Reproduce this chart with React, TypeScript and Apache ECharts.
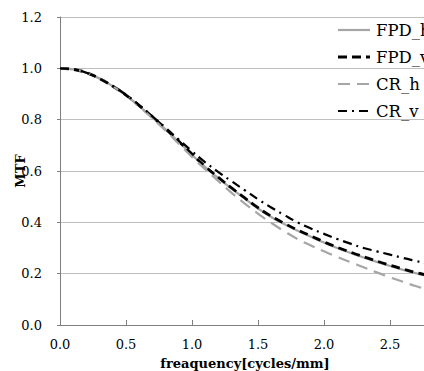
import React, { useEffect, useRef } from "react";
import * as echarts from "echarts";

const freq = [0, 0.1, 0.2, 0.3, 0.4, 0.5, 0.6, 0.7, 0.8, 0.9, 1.0, 1.1, 1.2, 1.3, 1.4, 1.5, 1.6, 1.7, 1.8, 1.9, 2.0, 2.1, 2.2, 2.3, 2.4, 2.5, 2.6, 2.7, 2.8, 2.9, 3.0];

const fpdH = [1.0, 0.996, 0.983, 0.96, 0.93, 0.895, 0.853, 0.808, 0.762, 0.713, 0.663, 0.615, 0.572, 0.531, 0.492, 0.454, 0.421, 0.393, 0.367, 0.344, 0.321, 0.3, 0.281, 0.263, 0.246, 0.23, 0.215, 0.201, 0.189, 0.178, 0.168];
const fpdV = [1.0, 0.996, 0.983, 0.96, 0.93, 0.896, 0.855, 0.811, 0.765, 0.716, 0.666, 0.618, 0.575, 0.534, 0.495, 0.457, 0.424, 0.396, 0.37, 0.347, 0.324, 0.303, 0.284, 0.266, 0.249, 0.233, 0.218, 0.204, 0.192, 0.181, 0.171];
const crH = [1.0, 0.996, 0.983, 0.96, 0.93, 0.894, 0.851, 0.805, 0.757, 0.706, 0.655, 0.607, 0.56, 0.515, 0.473, 0.434, 0.398, 0.365, 0.335, 0.31, 0.287, 0.265, 0.245, 0.225, 0.205, 0.186, 0.168, 0.151, 0.136, 0.124, 0.114];
const crV = [1.0, 0.996, 0.983, 0.96, 0.931, 0.897, 0.857, 0.813, 0.768, 0.722, 0.677, 0.634, 0.596, 0.56, 0.525, 0.49, 0.458, 0.428, 0.4, 0.376, 0.355, 0.335, 0.317, 0.3, 0.287, 0.274, 0.261, 0.249, 0.237, 0.226, 0.216];

const seriesNames = ["FPD_h", "FPD_v", "CR_h", "CR_v"];
const xTitle = "freaquency[cycles/mm]";
const yTitle = "MTF";

const FONT = "'DejaVu Serif', serif";

export default function App() {
  const ref = useRef<HTMLDivElement>(null);
  useEffect(() => {
    if (!ref.current) return;
    const chart = echarts.init(ref.current, null, { renderer: "svg" });
    const pairs = (ys: number[]) => freq.map((f, i) => [f, ys[i]]);
    const styles = [
      { color: "#a6a6a6", width: 2.2, type: "solid" as any },
      { color: "#000000", width: 2.8, type: [9, 5] as any },
      { color: "#a6a6a6", width: 2.2, type: [12, 7] as any },
      { color: "#000000", width: 2.2, type: [9, 5, 2, 5] as any },
    ];
    const legendDash: (number[] | null)[] = [null, [9, 5], [12, 7], [9, 5, 2, 5]];
    const datas = [fpdH, fpdV, crH, crV];
    const legendEls: any[] = [];
    seriesNames.forEach((n, i) => {
      const cy = 30 + i * 27;
      legendEls.push({
        type: "line",
        shape: { x1: 338, y1: cy, x2: 370, y2: cy },
        style: { stroke: styles[i].color, lineWidth: styles[i].width, lineDash: legendDash[i] || undefined },
        z: 10,
      });
      legendEls.push({
        type: "text",
        x: 376,
        y: cy,
        style: { text: n, fontFamily: FONT, fontSize: 16.5, fill: "#000", verticalAlign: "middle" },
        z: 10,
      });
    });
    chart.setOption({
      animation: false,
      backgroundColor: "#ffffff",
      grid: { left: 60, top: 17, right: -32, bottom: 46, containLabel: false, outerBoundsMode: "none" },
      graphic: legendEls,
      xAxis: {
        type: "value",
        min: 0,
        max: 3,
        interval: 0.5,
        name: xTitle,
        nameLocation: "middle",
        nameGap: 32,
        nameMoveOverlap: false,
        nameTextStyle: { fontFamily: FONT, fontSize: 13, fontWeight: "bold", color: "#000", padding: [0, 26, 0, 0] },
        axisLine: { lineStyle: { color: "#7f7f7f", width: 1 } },
        axisTick: { show: true, inside: true, length: 5, lineStyle: { color: "#7f7f7f" } },
        axisLabel: { fontFamily: FONT, fontSize: 13, color: "#000", margin: 13, formatter: (v: number) => v.toFixed(1) },
        splitLine: { show: false },
      },
      yAxis: {
        type: "value",
        min: 0,
        max: 1.2,
        interval: 0.2,
        name: yTitle,
        nameLocation: "middle",
        nameGap: 33,
        nameMoveOverlap: false,
        nameTextStyle: { fontFamily: FONT, fontSize: 13, fontWeight: "bold", color: "#000" },
        axisLine: { show: true, lineStyle: { color: "#7f7f7f", width: 1 } },
        axisTick: { show: true, inside: false, length: 3, lineStyle: { color: "#7f7f7f" } },
        axisLabel: { fontFamily: FONT, fontSize: 13, color: "#000", margin: 18, formatter: (v: number) => v.toFixed(1) },
        splitLine: { show: true, lineStyle: { color: "#bfbfbf", width: 1 } },
      },
      series: seriesNames.map((n, i) => ({
        name: n,
        type: "line",
        smooth: true,
        symbol: "none",
        data: pairs(datas[i]),
        lineStyle: styles[i],
        itemStyle: { color: styles[i].color },
        z: 2 + i,
      })),
    });
    return () => chart.dispose();
  }, []);
  return <div ref={ref} style={{ position: "fixed", left: 0, top: 0, width: 424, height: 371 }} />;
}
